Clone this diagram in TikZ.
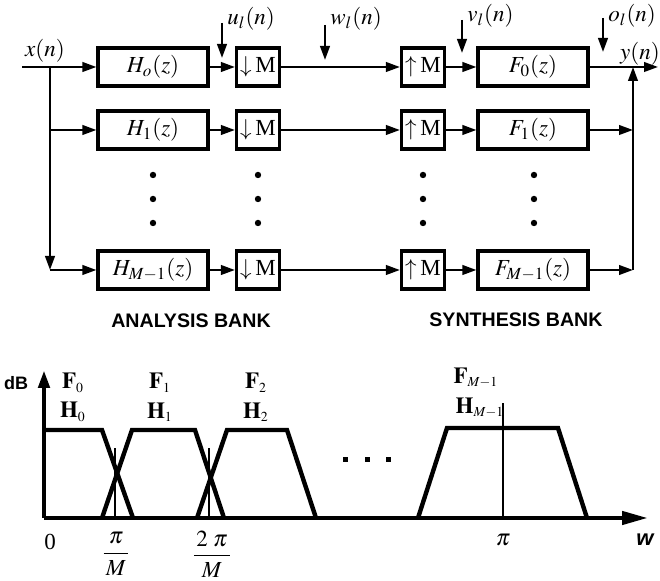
\documentclass[tikz,border=0pt]{standalone}
\usepackage{mathptmx}
\usepackage{fontspec}
\setmainfont{Liberation Serif}
\newfontfamily\bankfont{Liberation Sans}
\usetikzlibrary{arrows.meta}

\begin{document}
\begin{tikzpicture}[x=0.5pt, y=-0.5pt, every node/.style={font=\fontsize{11.5}{13}\selectfont},
    blk/.style={draw, line width=1.6pt, minimum width=55pt, minimum height=19pt, inner sep=0pt},
    rate/.style={draw, line width=1.6pt, minimum width=21.5pt, minimum height=19pt, inner sep=0pt},
    sig/.style={line width=1.1pt, -{Triangle[length=7pt, width=4.8pt]}},
    title/.style={font=\bankfont\bfseries\fontsize{9.8}{12}\selectfont},
    resp/.style={line width=2.2pt},
    tick/.style={line width=0.9pt}]
        \useasboundingbox (0,0) rectangle (660,581);
        % filter banks
        \foreach \r/\yy/\hs/\fs in {0/67/o/0, 1/130/1/1, 2/270/{M-1}/{M-1}} {
          \node[blk] (H\r) at (153,\yy) {$H_{\hs}(z)$};
          \node[rate] (D\r) at (258,\yy) {$\downarrow$\,M};
          \node[rate] (U\r) at (423,\yy) {$\uparrow$\,M};
          \node[blk] (F\r) at (533,\yy) {$F_{\fs}(z)$};
          \coordinate (in\r) at (50,\yy);
          \coordinate (out\r) at (633,\yy);
          \draw[sig] (H\r) -- (D\r);
          \draw[sig] (D\r) -- (U\r);
          \draw[sig] (U\r) -- (F\r);
        }
        % dots between branches
        \foreach \xx in {153,258,423,534} {
          \foreach \yy in {175,199,223} {
            \fill (\xx,\yy) circle (1.6pt);
          }
        }
        % input and output
        \coordinate (xin) at (22,67);
        \coordinate (yout) at (658,67);
        \node (xl) at (45,51) {$x(n)$};
        \node (yl) at (640,54) {$y(n)$};
        \draw[sig] (xin) -- (H0);
        \draw[sig] (in0) -- (in2);
        \draw[sig] (in1) -- (H1);
        \draw[sig] (in2) -- (H2);
        \draw[sig] (F0) -- (yout);
        \draw[sig] (F1) -- (out1);
        \draw[sig] (F2) -- (out2);
        \draw[sig] (out2) -- (out0);
        % probe points
        \foreach \n/\px/\ty/\ly/\lb in {u/222/23/58/19, w/325/25/60/19, v/462/20/53/16, o/603/18/52/16} {
          \coordinate (\n top) at (\px,\ty);
          \coordinate (\n tip) at (\px,\ly);
          \draw[sig] (\n top) -- (\n tip);
          \node[anchor=west, inner sep=1pt] (\n lab) at (\px+3,\lb) {$\n_l(n)$};
        }
        % bank titles
        \node[title] (ana) at (191,321) {ANALYSIS BANK};
        \node[title] (syn) at (516,320) {SYNTHESIS BANK};
        % spectrum axes
        \coordinate (org) at (44,518);
        \coordinate (dbtop) at (44,370);
        \coordinate (wend) at (648,518);
        \draw[line width=2.2pt, -{Triangle[length=9pt, width=5.5pt]}] (org) -- (dbtop);
        \draw[line width=2.2pt, -{Triangle[length=13pt, width=6.5pt]}] (org) -- (wend);
        \node[font=\bankfont\bfseries\fontsize{9}{11}\selectfont] (db) at (16,383) {dB};
        \node[font=\bankfont\bfseries\itshape\fontsize{11}{13}\selectfont] (wl) at (645,540) {w};
        % filter responses
        \draw[resp] (44,430) -- (102,430) -- (133,518);
        \foreach \a/\b/\c/\d/\h in {102/132/195/224/430, 197/227/287/316/430, 418/447/558/587/428} {
          \draw[resp] (\a,518) -- (\b,\h) -- (\c,\h) -- (\d,518);
        }
        \foreach \xx/\yt in {115/448, 209/448, 503/403} {
          \draw[tick] (\xx,518) -- (\xx,\yt);
        }
        \foreach \xx in {345,367,388} {
          \fill (\xx,460) +(-2.5,-2.5) rectangle +(2.5,2.5);
        }
        % band labels
        \foreach \k/\xx in {0/73, 1/160, 2/256} {
          \node (F\k lab) at (\xx,383) {$\mathbf{F}_{\scriptscriptstyle \k}$};
          \node (H\k lab) at (\xx,412) {$\mathbf{H}_{\scriptscriptstyle \k}$};
        }
        \node (FMlab) at (476,378) {$\mathbf{F}_{\scriptscriptstyle M-1}$};
        \node (HMlab) at (480,408) {$\mathbf{H}_{\scriptscriptstyle M-1}$};
        % frequency marks
        \node (t0) at (50,542) {0};
        \node (t1) at (116,554) {$\displaystyle\frac{\;\pi\;}{M}$};
        \node (t2) at (212,554) {$\displaystyle\frac{\,2\;\pi\,}{M}$};
        \node (tpi) at (503,540) {$\pi$};
      \end{tikzpicture}
\end{document}
